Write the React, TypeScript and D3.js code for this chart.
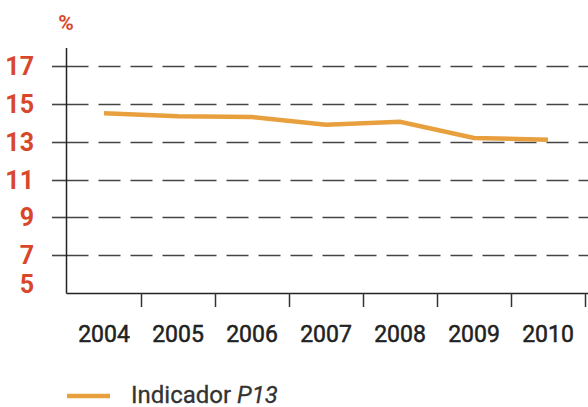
import { useEffect, useRef } from 'react';
import * as d3 from 'd3';

const years = ['2004', '2005', '2006', '2007', '2008', '2009', '2010'];
const indicadorP13 = [14.5, 14.35, 14.3, 13.9, 14.05, 13.2, 13.1];
const yTicks = [5, 7, 9, 11, 13, 15, 17];

const width = 588;
const height = 407;

const App = () => {
    const svgRef = useRef<SVGSVGElement>(null);

    useEffect(() => {
        if (!svgRef.current) return;
        const svg = d3.select(svgRef.current);
        svg.selectAll('*').remove();

        const x = d3.scaleBand<string>().domain(years).range([67, 585]);
        const y = d3.scaleLinear().domain([5, 17]).range([293, 66]);
        const axisX = 66.5;
        const red = '#d9472b';

        // dashed grid lines + left ticks
        const grid = svg.append('g');
        yTicks.filter(t => t > 5).forEach(t => {
            const yy = Math.round(y(t)) + 0.5;
            grid.append('line')
                .attr('x1', axisX).attr('x2', width)
                .attr('y1', yy).attr('y2', yy)
                .attr('stroke', '#444').attr('stroke-width', 1.6)
                .attr('stroke-dasharray', '22,10');
            grid.append('line')
                .attr('x1', 52).attr('x2', axisX)
                .attr('y1', yy).attr('y2', yy)
                .attr('stroke', '#444').attr('stroke-width', 1.6);
        });

        // y tick labels (the 5 sits on the axis line, so it is lifted)
        svg.append('g')
            .selectAll('text')
            .data(yTicks)
            .enter()
            .append('text')
            .attr('x', 34)
            .attr('y', d => y(d) + (d === 5 ? 0 : 9))
            .attr('text-anchor', 'end')
            .attr('fill', red)
            .style('font-family', 'Roboto, sans-serif')
            .style('font-weight', 700)
            .style('font-size', '25px')
            .text(d => d);

        svg.append('text')
            .attr('x', 66)
            .attr('y', 30)
            .attr('text-anchor', 'middle')
            .attr('fill', red)
            .style('font-family', 'Roboto, sans-serif')
            .style('font-weight', 700)
            .style('font-size', '21px')
            .text('%');

        // axes
        svg.append('line')
            .attr('x1', axisX).attr('x2', axisX)
            .attr('y1', 48).attr('y2', 293.5)
            .attr('stroke', '#222').attr('stroke-width', 1.5);
        svg.append('line')
            .attr('x1', axisX).attr('x2', width)
            .attr('y1', 293.5).attr('y2', 293.5)
            .attr('stroke', '#222').attr('stroke-width', 1.5);

        // x ticks at band boundaries
        svg.append('g')
            .selectAll('line')
            .data(years)
            .enter()
            .append('line')
            .attr('x1', d => Math.round((x(d) as number) + x.bandwidth()) + 0.5)
            .attr('x2', d => Math.round((x(d) as number) + x.bandwidth()) + 0.5)
            .attr('y1', 293).attr('y2', 307)
            .attr('stroke', '#333').attr('stroke-width', 1.5);

        // x labels
        svg.append('g')
            .selectAll('text')
            .data(years)
            .enter()
            .append('text')
            .attr('x', d => (x(d) as number) + x.bandwidth() / 2)
            .attr('y', 342)
            .attr('text-anchor', 'middle')
            .attr('fill', '#222')
            .attr('stroke', '#222')
            .attr('stroke-width', 0.5)
            .style('font-family', 'Roboto, sans-serif')
            .style('font-weight', 400)
            .style('font-size', '23px')
            .text(d => d);

        // the line
        const line = d3.line<number>()
            .x((_d, i) => (x(years[i]) as number) + x.bandwidth() / 2)
            .y(d => y(d));

        svg.append('path')
            .datum(indicadorP13)
            .attr('fill', 'none')
            .attr('stroke', '#e8a03e')
            .attr('stroke-width', 4.5)
            .attr('d', line);

        // legend
        svg.append('line')
            .attr('x1', 67).attr('x2', 110)
            .attr('y1', 396).attr('y2', 396)
            .attr('stroke', '#e8a03e').attr('stroke-width', 4.5);
        const lt = svg.append('text')
            .attr('x', 131)
            .attr('y', 403)
            .attr('fill', '#333')
            .attr('stroke', '#333')
            .attr('stroke-width', 0.3)
            .style('font-family', 'Roboto, sans-serif')
            .style('font-size', '24px');
        lt.append('tspan').text('Indicador ');
        lt.append('tspan').style('font-style', 'italic').text('P13');
    }, []);

    return (
        <svg ref={svgRef} width={width} height={height}
            style={{ position: 'absolute', left: 0, top: 0, background: '#fff' }}
            role="img" aria-label="Indicador P13, 2004-2010"></svg>
    );
};

export default App;
